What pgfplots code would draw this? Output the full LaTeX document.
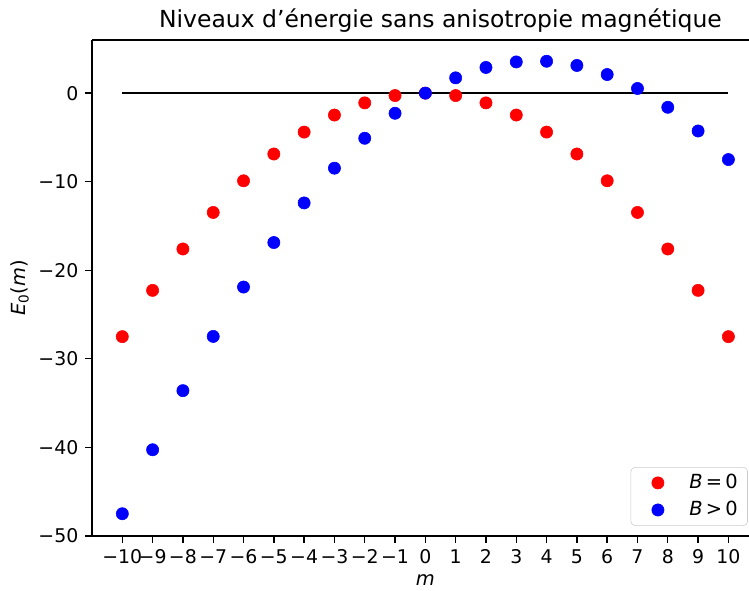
\documentclass[border=0pt]{standalone}
\usepackage{pgfplots}
\pgfplotsset{compat=1.18}
\usepackage{fontspec}
\setmainfont{DejaVu Sans}
\begin{document}
\begin{tikzpicture}
\fontsize{14pt}{17pt}\selectfont
\begin{axis}[
  scale only axis,
  width=473pt, height=357pt,
  xmin=-11, xmax=10.68,
  ymin=-50, ymax=6,
  axis x line*=box, axis y line*=left,
  axis line style={line width=1pt},
  tick align=outside, xtick pos=bottom, ytick pos=left,
  major tick length=5pt,
  tick style={line width=1pt, black},
  xtick={-10,...,10},
  xticklabels={−10,−9,−8,−7,−6,−5,−4,−3,−2,−1,0,1,2,3,4,5,6,7,8,9,10},
  ytick={-50,-40,-30,-20,-10,0},
  yticklabels={−50,−40,−30,−20,−10,0},
  ticklabel style={font=\fontsize{13.6pt}{17pt}\selectfont},
  xticklabel style={inner xsep=0pt},
  legend style={at={(axis cs:10.64,-48.87)}, anchor=south east,
    draw=black!20, rounded corners=3pt, fill=white,
    font=\fontsize{14pt}{17pt}\selectfont, row sep=3pt, inner xsep=0pt, inner ysep=3pt,
    nodes={inner xsep=0pt}},
  legend cell align=left,
  legend image code/.code={\path[draw=none] (0pt,0pt) -- (30pt,0pt); \draw[#1] plot coordinates {(19.4pt,0pt)};},
  clip=false,
]
\addplot[only marks, mark=*, mark size=4.4pt, color=red, mark options={draw=red, fill=red}] coordinates {
(-10,-27.5) (-9,-22.275) (-8,-17.6) (-7,-13.475) (-6,-9.9) (-5,-6.875) (-4,-4.4)
(-3,-2.475) (-2,-1.1) (-1,-0.275) (0,0) (1,-0.275) (2,-1.1) (3,-2.475) (4,-4.4)
(5,-6.875) (6,-9.9) (7,-13.475) (8,-17.6) (9,-22.275) (10,-27.5)
};
\addlegendentry{\rule{12pt}{0pt}\textit{B}\,=\,0\rule{7pt}{0pt}}
\addplot[only marks, mark=*, mark size=4.4pt, color=blue, mark options={draw=blue, fill=blue}] coordinates {
(-10,-47.5) (-9,-40.275) (-8,-33.6) (-7,-27.475) (-6,-21.9) (-5,-16.875) (-4,-12.4)
(-3,-8.475) (-2,-5.1) (-1,-2.275) (0,0) (1,1.725) (2,2.9) (3,3.525) (4,3.6)
(5,3.125) (6,2.1) (7,0.525) (8,-1.6) (9,-4.275) (10,-7.5)
};
\addlegendentry{\rule{12pt}{0pt}\textit{B}\,>\,0\rule{7pt}{0pt}}
\addplot[black, line width=1.5pt, forget plot] coordinates {(-10,0) (10,0)};
\node[anchor=base, font=\fontsize{16.9pt}{20pt}\selectfont] at ([yshift=9pt]axis cs:0.5,6) {Niveaux d'énergie sans anisotropie magnétique};
\node[anchor=base, inner sep=0pt] at ([yshift=-36pt]axis cs:0,-50) {\textit{m}};
\node[rotate=90, anchor=base] at ([xshift=-48pt]rel axis cs:0,0.5) {\textit{E}\textsubscript{0}(\textit{m})};
\coordinate (sw) at (rel axis cs:0,0);
\coordinate (ne) at (rel axis cs:1,1);
\end{axis}
\pgfresetboundingbox
\path[use as bounding box] ([shift={(-66.24pt,-39.6pt)}]sw) rectangle ([shift={(0pt,28.8pt)}]ne);
\end{tikzpicture}
\end{document}
